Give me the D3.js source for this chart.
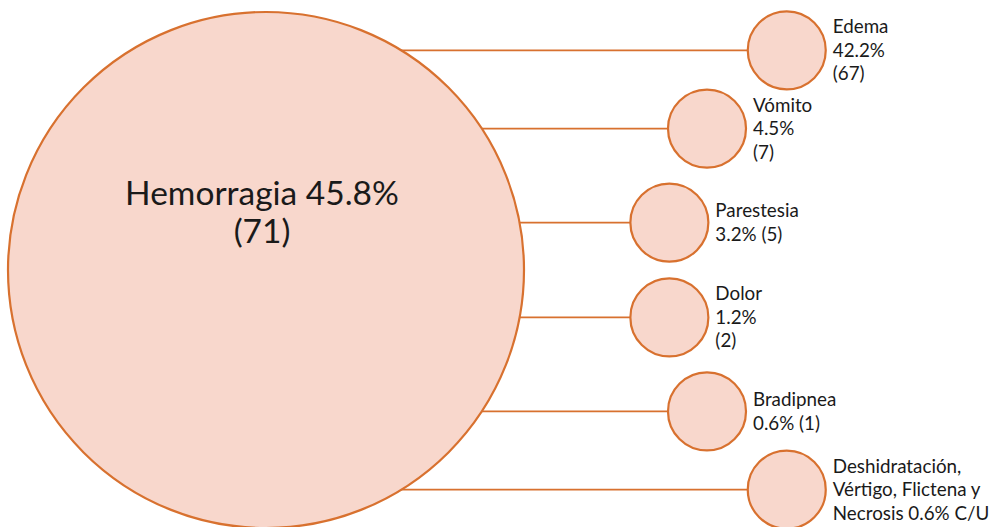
<!DOCTYPE html>
<html>
<head>
<meta charset="utf-8">
<script src="https://cdn.jsdelivr.net/npm/d3@7"></script>
<style>
  body { margin: 0; background: #fff; }
  text { font-family: Lato, "Noto Sans", sans-serif; fill: #1a1a1a; }
</style>
</head>
<body>
<svg width="993" height="527"></svg>
<script>
// main category (big circle)
var mainLabel = ["Hemorragia 45.8%", "(71)"];
var mainPct = 45.8, mainCount = 71;

// other effects (small circles), top to bottom
var categories = ["Edema", "Vómito", "Parestesia", "Dolor", "Bradipnea", "Deshidratación, Vértigo, Flictena y Necrosis"];
var percents = [42.2, 4.5, 3.2, 1.2, 0.6, 0.6];
var counts = [67, 7, 5, 2, 1, 1];
var labelLines = [
  ["Edema", "42.2%", "(67)"],
  ["Vómito", "4.5%", "(7)"],
  ["Parestesia", "3.2% (5)"],
  ["Dolor", "1.2%", "(2)"],
  ["Bradipnea", "0.6% (1)"],
  ["Deshidratación,", "Vértigo, Flictena y", "Necrosis 0.6% C/U"]
];

var data = categories.map(function(c, i) {
  return {name: c, pct: percents[i], n: counts[i], lines: labelLines[i]};
});

var svg = d3.select("svg"),
    width = +svg.attr("width"),
    height = +svg.attr("height");

var fill = "#f8d7cc", stroke = "#d8712f";

var big = {x: 266, y: 270, r: 258};
var smallR = 39;

// small circles sit on an arc facing the big one
var arc = {x: 924, y: 270, r: 259};
var angle = d3.scalePoint()
    .domain(categories)
    .range([-58, 58]);

// squeeze the inner spacing a bit, like the original layout
function ang(d) { var a = angle(d.name); return a - 1.8 * Math.sin(a * Math.PI / 58); }
function px(d) { return arc.x - arc.r * Math.cos(ang(d) * Math.PI / 180); }
function py(d) { return arc.y + arc.r * Math.sin(ang(d) * Math.PI / 180); }

// connectors
svg.append("g")
  .selectAll("line")
  .data(data)
  .enter().append("line")
    .attr("x1", big.x)
    .attr("x2", px)
    .attr("y1", py)
    .attr("y2", py)
    .attr("stroke", stroke)
    .attr("stroke-width", 1.6);

svg.append("circle")
    .attr("cx", big.x)
    .attr("cy", big.y)
    .attr("r", big.r)
    .attr("fill", fill)
    .attr("stroke", stroke)
    .attr("stroke-width", 2.2);

svg.append("text")
    .attr("text-anchor", "middle")
    .attr("font-size", 33.5)
  .selectAll("tspan")
  .data(mainLabel)
  .enter().append("tspan")
    .attr("x", big.x - 4)
    .attr("y", function(d, i) { return 205 + i * 38; })
    .text(function(d) { return d; });

var node = svg.append("g")
  .selectAll("g")
  .data(data)
  .enter().append("g")
    .attr("transform", function(d) { return "translate(" + px(d) + "," + py(d) + ")"; });

node.append("circle")
    .attr("r", smallR)
    .attr("fill", fill)
    .attr("stroke", stroke)
    .attr("stroke-width", 2.2);

var lh = 23.5;
node.append("text")
    .attr("font-size", 18.8)
  .selectAll("tspan")
  .data(function(d) { return d.lines.map(function(t) { return {t: t, k: d.lines.length}; }); })
  .enter().append("tspan")
    .attr("x", smallR + 7)
    .attr("y", function(d, i) { return 6.5 + (i - (d.k - 1) / 2) * lh; })
    .text(function(d) { return d.t; });
</script>
</body>
</html>
